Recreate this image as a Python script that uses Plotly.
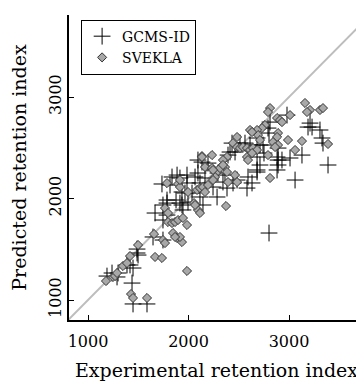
import plotly.graph_objects as go

# GCMS-ID (crosses)
gcms_x = [1189, 1239, 1289, 1299, 1388, 1418, 1448, 1488, 1498, 1488, 1438, 1448, 1587,
          1647, 1746, 1667, 1746, 1786, 1786, 1736, 1836, 1886, 1985, 1935, 1965, 1876,
          1935, 1945, 1746, 2035, 2094, 1816, 1915, 1985, 2114, 2284, 1995, 1915, 1786,
          2144, 2134, 2094, 2512, 2562, 2433, 2612, 2463, 2413, 2682, 2711, 2393, 2194,
          2293, 2363, 2682, 2592, 2443, 2343, 2164, 2114, 2065, 2244, 2383, 2582, 2483,
          2811, 2791, 2980, 3189, 3209, 3229, 3308, 3328, 3338, 2741, 2891, 2881, 2891,
          2881, 2891, 3010, 3129, 2682, 2711, 2682, 3388, 3060, 2930, 2632, 2801, 2801,
          2751]
gcms_y = [1236, 1266, 1227, 1266, 1345, 1345, 1315, 1463, 1443, 1502, 1167, 961, 961,
          1621, 1591, 1857, 1936, 1955, 1837, 2143, 2212, 2231, 2231, 2064, 2054, 1985,
          1936, 1887, 1788, 2054, 2379, 2133, 2202, 2153, 2015, 2015, 1965, 1955, 1985,
          1936, 2359, 2251, 2546, 2546, 2546, 2527, 2458, 2458, 2596, 2527, 2428, 2349,
          2251, 2231, 2261, 2212, 2153, 2162, 2202, 2153, 2212, 2113, 2103, 2103, 2182,
          2753, 2694, 2822, 2704, 2743, 2704, 2675, 2596, 2546, 2527, 2497, 2409, 2330,
          2281, 2379, 2399, 2428, 2409, 2330, 2281, 2330, 2182, 2379, 2153, 1660, 2645,
          2448]

# SVEKLA (diamonds)
svekla_x = [1179, 1249, 1269, 1289, 1348, 1388, 1418, 1498, 1428, 1448, 1587, 1667, 1736,
            1985, 1657, 1746, 1766, 1796, 1836, 1866, 1896, 1945, 1985, 1846, 1886, 1935,
            1915, 1786, 1896, 1766, 2134, 2174, 1915, 1995, 2085, 2114, 2144, 2164, 2194,
            2055, 2094, 2114, 1796, 2373, 2065, 2761, 2731, 2682, 2612, 2692, 2483, 2443,
            2483, 2512, 2542, 2582, 2612, 2642, 2582, 2592, 2383, 2343, 2363, 2134, 2234,
            2164, 2234, 2284, 2313, 2343, 2264, 2244, 2463, 2483, 2393, 3159, 3209, 3179,
            3308, 3338, 2811, 2791, 2881, 2910, 2930, 3010, 2632, 2711, 2891, 2881, 2841,
            2891, 2861, 2990, 3129, 3060, 2791, 3388, 2811, 2682, 2632, 2244, 2383, 1915,
            1866]
svekla_y = [1187, 1227, 1236, 1266, 1335, 1364, 1433, 1542, 1059, 1020, 1020, 1424, 1414,
            1286, 1650, 1591, 1561, 1768, 1758, 1768, 1788, 1808, 1739, 1660, 1611, 1571,
            1621, 2152, 2143, 1906, 2418, 2310, 2113, 2064, 2084, 2103, 2113, 2064, 2133,
            1955, 1887, 1857, 1857, 1926, 1936, 2724, 2694, 2675, 2675, 2625, 2606, 2546,
            2507, 2497, 2507, 2497, 2478, 2497, 2409, 2379, 2409, 2379, 2310, 2409, 2428,
            2310, 2300, 2261, 2300, 2330, 2212, 2182, 2231, 2162, 2162, 2941, 2872, 2852,
            2872, 2891, 2891, 2852, 2793, 2773, 2753, 2822, 2655, 2576, 2645, 2606, 2556,
            2527, 2507, 2576, 2566, 2478, 2428, 2537, 2202, 2478, 2448, 2281, 2261, 2182,
            1621]

diag = [800, 3800]
tick_vals = [1000, 2000, 3000]

FONT = "DejaVu Serif"

fig = go.Figure()
fig.add_trace(go.Scatter(x=diag, y=diag, mode="lines",
                         line=dict(color="#bdbdbd", width=2),
                         showlegend=False, hoverinfo="skip"))
fig.add_trace(go.Scatter(x=gcms_x, y=gcms_y, mode="markers", name="GCMS-ID",
                         marker=dict(symbol="cross-thin", size=12,
                                     line=dict(color="black", width=1))))
fig.add_trace(go.Scatter(x=svekla_x, y=svekla_y, mode="markers", name="SVEKLA",
                         marker=dict(symbol="diamond", size=7, color="#a8a8a8",
                                     line=dict(color="#333333", width=1))))

# page body has an 8px margin: size the figure so the plot lands where the reference has it
fig.update_layout(
    width=356, height=373,
    margin=dict(l=61, r=0, t=7, b=61),
    plot_bgcolor="white", paper_bgcolor="white",
    font=dict(family=FONT, size=16, color="black"),
    legend=dict(x=0.041, y=0.985, xanchor="left", yanchor="top",
                bordercolor="black", borderwidth=1, bgcolor="white",
                font=dict(family=FONT, size=14), tracegroupgap=0,
                itemwidth=30),
)
fig.update_xaxes(range=[811, 3746], tickvals=tick_vals, ticks="inside", ticklen=5,
                 tickcolor="black", showline=True, linecolor="black", linewidth=1.5,
                 showgrid=False, zeroline=False, ticklabelstandoff=6,
                 title=dict(text="Experimental retention index", standoff=14))
fig.update_yaxes(range=[803, 3808], tickvals=tick_vals, ticks="inside", ticklen=5,
                 tickcolor="black", showline=True, linecolor="black", linewidth=1.5,
                 showgrid=False, zeroline=False, tickangle=-90, ticklabelstandoff=0,
                 title=dict(text="Predicted retention index", standoff=14))

fig.write_html("out.html")
